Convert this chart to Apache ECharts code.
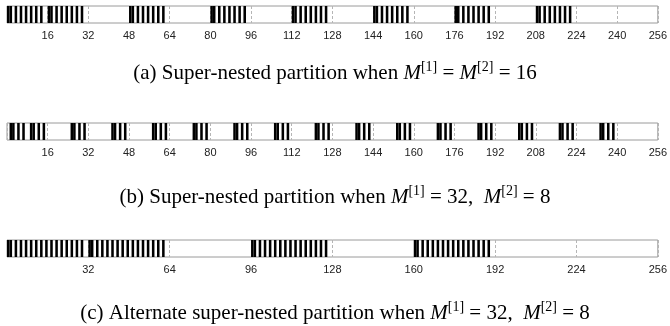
<!DOCTYPE html>
<html>
<head>
<meta charset="utf-8">
<script src="https://cdn.jsdelivr.net/npm/echarts@6/dist/echarts.min.js"></script>
<style>
  html, body { margin: 0; padding: 0; background: #fff; }
  #chart { width: 670px; height: 326px; }
</style>
</head>
<body>
<div id="chart"></div>
<script>
// occupied positions (cell index, 0..255)
const stripA = [
  0, 1, 3, 5, 7, 9, 11, 13,
  16, 17, 19, 21, 23, 25, 27, 29,
  48, 49, 51, 53, 55, 57, 59, 61,
  80, 81, 83, 85, 87, 89, 91, 93,
  112, 113, 115, 117, 119, 121, 123, 125,
  144, 145, 147, 149, 151, 153, 155, 157,
  176, 177, 179, 181, 183, 185, 187, 189,
  208, 209, 211, 213, 215, 217, 219, 221
]
const stripB = [
  1, 2, 4, 6, 9, 10, 12, 14,
  25, 26, 28, 30,
  41, 42, 44, 46,
  57, 58, 60, 62,
  73, 74, 76, 78,
  89, 90, 92, 94,
  105, 106, 108, 110,
  121, 122, 124, 126,
  137, 138, 140, 142,
  153, 154, 156, 158,
  169, 170, 172, 174,
  185, 186, 188, 190,
  201, 202, 204, 206,
  217, 218, 220, 222,
  233, 234, 236, 238
]
const stripC = [
  0, 1, 3, 5, 7, 9, 11, 13, 15, 17, 19, 21, 23, 25, 27, 29,
  32, 33, 35, 37, 39, 41, 43, 45, 47, 49, 51, 53, 55, 57, 59, 61,
  96, 97, 99, 101, 103, 105, 107, 109, 111, 113, 115, 117, 119, 121, 123, 125,
  160, 161, 163, 165, 167, 169, 171, 173, 175, 177, 179, 181, 183, 185, 187, 189
]
// tick steps of the three axes
const tickStep = [16, 16, 32]
const axisMax = 256

const captions = [
  '{t|(a) Super-nested partition when }{m|M}{s|[1]}{t| = }{m|M}{s|[2]}{t| = 16}',
  '{t|(b) Super-nested partition when }{m|M}{s|[1]}{t| = 32,  }{m|M}{s|[2]}{t| = 8}',
  '{t|(c) Alternate super-nested partition when }{m|M}{s|[1]}{t| = 32,  }{m|M}{s|[2]}{t| = 8}'
]

const gridTops = [6, 123, 240]
const captionTops = [60, 184, 300]

const chart = echarts.init(document.getElementById('chart'), null, { renderer: 'canvas' })

const serif = 'Liberation Serif, Times New Roman, serif'
const rich = {
  t: { fontFamily: serif, fontSize: 21, fontWeight: 'normal', color: '#000', lineHeight: 26 },
  m: { fontFamily: serif, fontSize: 21, fontWeight: 'normal', fontStyle: 'italic', color: '#000', lineHeight: 26 },
  s: { fontFamily: serif, fontSize: 14, fontWeight: 'normal', color: '#000', lineHeight: 14, verticalAlign: 'top' }
}

const renderCell = (params, api) => {
  const p = api.value(0)
  const a = api.coord([p, 1])
  const b = api.coord([p + 1, 0])
  return {
    type: 'rect',
    shape: { x: a[0], y: a[1], width: b[0] - a[0], height: b[1] - a[1] },
    style: { fill: '#000' }
  }
}

const strips = [stripA, stripB, stripC]

chart.setOption({
  animation: false,
  title: captions.map((c, i) => ({
    text: c,
    left: 'center',
    top: captionTops[i],
    padding: 0,
    textStyle: { fontWeight: 'normal', rich }
  })),
  grid: gridTops.map(t => ({
    left: 7,
    right: 11,
    top: t,
    height: 17,
    show: true,
    borderColor: '#9a9a9a',
    borderWidth: 1
  })),
  xAxis: strips.map((s, i) => ({
    type: 'value',
    gridIndex: i,
    min: 0,
    max: axisMax,
    interval: tickStep[i],
    axisLine: { show: false },
    axisTick: { show: false },
    axisLabel: {
      margin: 7,
      fontSize: 11,
      fontFamily: 'Liberation Sans, Arial, sans-serif',
      color: '#222',
      showMinLabel: true,
      showMaxLabel: true,
      formatter: v => (v === 0 ? '' : String(v))
    },
    splitLine: {
      show: true,
      lineStyle: { color: '#b5b5b5', width: 1, type: [3, 2] }
    }
  })),
  yAxis: strips.map((s, i) => ({
    type: 'value',
    gridIndex: i,
    min: 0,
    max: 1,
    show: false
  })),
  series: strips.map((s, i) => ({
    type: 'custom',
    xAxisIndex: i,
    yAxisIndex: i,
    renderItem: renderCell,
    encode: { x: 0 },
    data: s.map(p => [p])
  }))
})
</script>
</body>
</html>
